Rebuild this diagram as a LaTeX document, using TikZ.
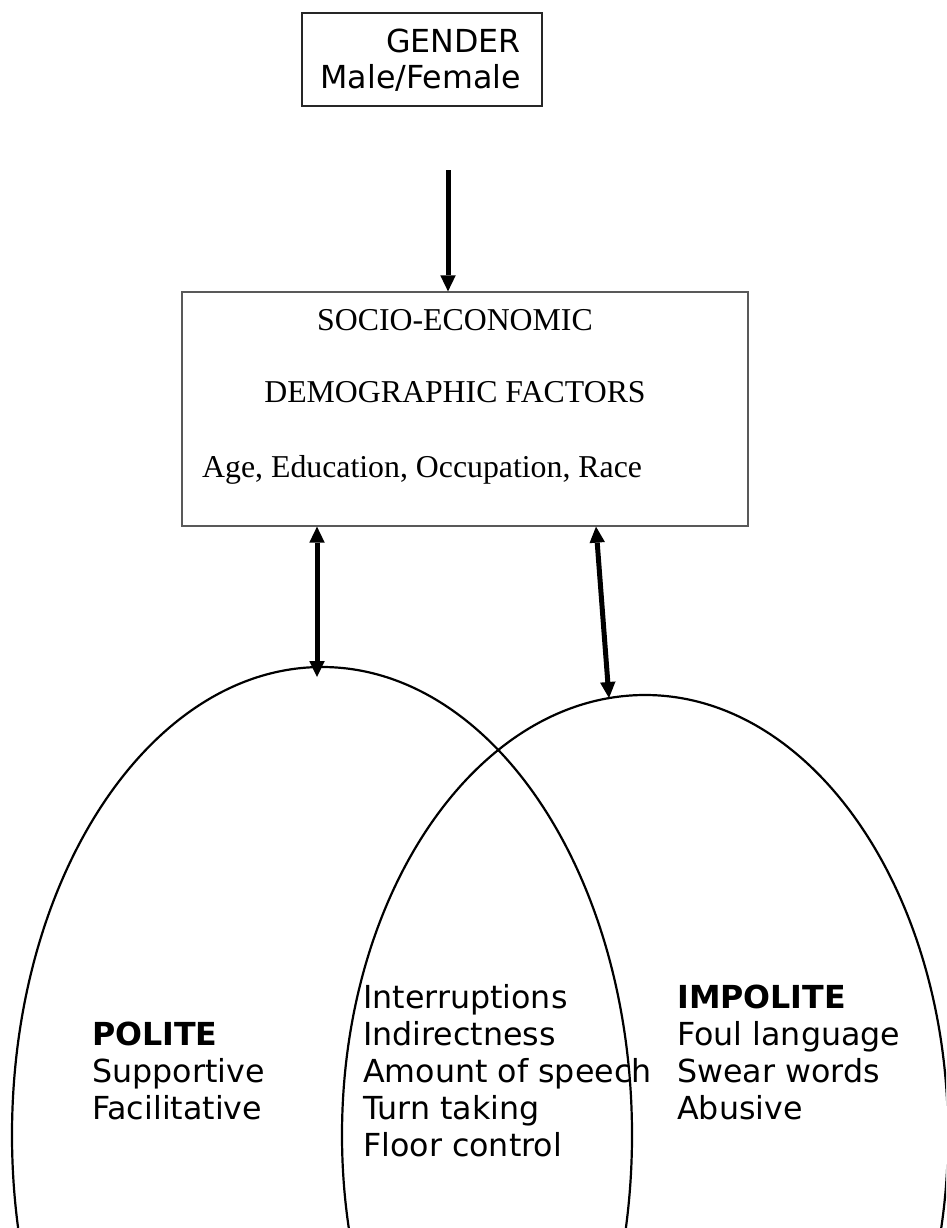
\documentclass[tikz,border=0pt]{standalone}
\usepackage{fontspec}
\setmainfont{DejaVu Sans}
\newfontfamily\timesfont{Liberation Serif}
\usetikzlibrary{arrows.meta,shapes.geometric}
\begin{document}
\begin{tikzpicture}[x=1pt,y=-1pt,
  txt/.style={inner sep=0pt, font=\fontsize{31.7}{36.8}\selectfont},
  btxt/.style={txt, font=\fontsize{31.7}{36.8}\selectfont\bfseries},
  ttxt/.style={inner sep=0pt, font=\timesfont\fontsize{31.8}{38}\selectfont},
  bigarrow/.style={line width=5pt, -{Triangle[width=15.5pt,length=16pt,line width=0pt]}},
  dblarrow/.style={line width=5pt, {Triangle[width=15.5pt,length=16pt,line width=0pt]}-{Triangle[width=15.5pt,length=16pt,line width=0pt]}},
  oval/.style={ellipse, draw, line width=2.2pt, inner sep=0pt},
  box/.style={draw, inner sep=0pt, line width=1.3pt}]
\useasboundingbox (0,0) rectangle (946,1228);

% ovals
\begin{scope}
  \clip (0,0) rectangle (946,1228);
  \node[oval, minimum width=620pt, minimum height=936pt] (polite) at (322,1135) {};
  \node[oval, minimum width=606pt, minimum height=880pt] (impolite) at (645,1135) {};
\end{scope}

% gender box
\node[box, draw=black!85, minimum width=240pt, minimum height=93pt] (gender) at (422,59.5) {};
\node[txt, anchor=base east] (g1) at (521,53) {GENDER};
\node[txt, anchor=base east] (g2) at (521,89) {Male/Female};

% socio-economic box
\node[box, draw=black!65, minimum width=566pt, minimum height=234pt] (socio) at (465,409) {};
\node[ttxt, anchor=base] (s1) at (455,330) {SOCIO-ECONOMIC};
\node[ttxt, anchor=base] (s2) at (455,402) {DEMOGRAPHIC FACTORS};
\node[ttxt, anchor=base west] (s3) at (202,477) {Age, Education, Occupation, Race};

% arrows
\coordinate (gtop) at (448,170);
\draw[bigarrow] (gtop) -- (gtop |- socio.north);
\coordinate (la) at (317,677);
\draw[dblarrow] (la |- socio.south) -- (la);
\coordinate (rtx) at (596,0);
\coordinate (ra) at (609,698);
\draw[dblarrow] (rtx |- socio.south) -- (ra);

% left texts
\node[btxt, anchor=base west] (p1) at (92,1045) {POLITE};
\node[txt, anchor=base west] (p2) at (92,1082) {Supportive};
\node[txt, anchor=base west] (p3) at (92,1119) {Facilitative};

% middle texts
\node[txt, anchor=base west] (m1) at (363,1008) {Interruptions};
\node[txt, anchor=base west] (m2) at (363,1045) {Indirectness};
\node[txt, anchor=base west] (m3) at (363,1082) {Amount of speech};
\node[txt, anchor=base west] (m4) at (363,1119) {Turn taking};
\node[txt, anchor=base west] (m5) at (363,1156) {Floor control};

% right texts
\node[btxt, anchor=base west] (i1) at (677,1008) {IMPOLITE};
\node[txt, anchor=base west] (i2) at (677,1045) {Foul language};
\node[txt, anchor=base west] (i3) at (677,1082) {Swear words};
\node[txt, anchor=base west] (i4) at (677,1119) {Abusive};
\end{tikzpicture}
\end{document}
